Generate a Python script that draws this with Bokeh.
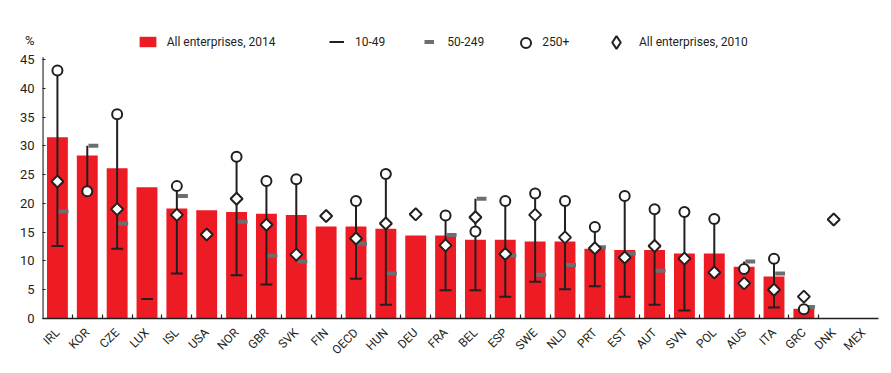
import math
import numpy as np
from bokeh.plotting import figure
from bokeh.models import Range1d, FixedTicker, Legend, LegendItem, ColumnDataSource
from bokeh.embed import file_html
from bokeh.resources import INLINE

nan = float("nan")

countries = ["IRL", "KOR", "CZE", "LUX", "ISL", "USA", "NOR", "GBR", "SVK", "FIN",
             "OECD", "HUN", "DEU", "FRA", "BEL", "ESP", "SWE", "NLD", "PRT", "EST",
             "AUT", "SVN", "POL", "AUS", "ITA", "GRC", "DNK", "MEX"]

all_2014 = [31.5, 28.3, 26.1, 22.8, 19.1, 18.8, 18.5, 18.2, 18.0, 16.0,
            16.0, 15.6, 14.4, 14.4, 13.7, 13.7, 13.4, 13.4, 12.1, 11.9,
            11.9, 11.3, 11.3, 9.0, 7.3, 1.7, nan, nan]

size_10_49 = [12.6, nan, 12.1, 3.4, 7.8, nan, 7.5, 5.9, nan, nan,
              6.9, 2.4, nan, 4.9, 4.9, 3.8, 6.4, 5.1, 5.6, 3.8,
              2.4, 1.4, 8.0, nan, 1.9, nan, nan, nan]

size_50_249 = [18.6, 30.0, 16.5, nan, 21.3, nan, 16.8, 10.9, 9.9, nan,
               13.0, 7.8, nan, 14.5, 20.8, 11.0, 7.6, 9.3, 12.4, 11.3,
               8.3, nan, nan, 9.9, 7.8, 2.0, nan, nan]

size_250p = [43.1, 22.1, 35.5, nan, 23.0, nan, 28.1, 23.9, 24.2, nan,
             20.4, 25.1, nan, 17.9, 15.1, 20.4, 21.7, 20.4, 15.9, 21.3,
             19.0, 18.5, 17.3, 8.6, 10.4, 1.6, nan, nan]

all_2010 = [23.8, nan, 19.0, nan, 18.0, 14.6, 20.8, 16.3, 11.1, 17.8,
            13.9, 16.5, 18.1, 12.7, 17.6, 11.2, 18.0, 14.1, 12.2, 10.6,
            12.6, 10.4, 8.0, 6.1, 5.0, 3.8, 17.2, nan]

y_ticks = [0, 5, 10, 15, 20, 25, 30, 35, 40, 45]
unit_label = "%"

RED = "#ED1C24"
BLACK = "#231F20"
GRAY = "#6D6E71"
TXT = "#231F20"
FONT = "Roboto, sans-serif"

n = len(countries)
xs = np.arange(n, dtype=float)

# frame geometry (page px); frame is extended upward to hold the legend
W, H = 891, 373
FL, FR, FT, FB = 42, 878, 20, 318
Y45 = 59  # pixel row of the 45 % tick
y_end = y_ticks[-1] * (FB - FT) / (FB - Y45)
unit_pos = 48.3    # where the "%" unit label sits on the value scale
axis_top = 45.4    # where the value axis line stops


def src(vals):
    v = np.array(vals, dtype=float)
    m = ~np.isnan(v)
    return ColumnDataSource(dict(x=xs[m], y=v[m]))


p = figure(width=W, height=H, output_backend="svg", toolbar_location=None,
           x_range=Range1d(-0.5, n - 0.5), y_range=Range1d(0, y_end),
           min_border_left=FL, min_border_right=W - FR, min_border_top=FT,
           min_border_bottom=H - FB)
p.outline_line_color = None
p.xgrid.visible = False
p.ygrid.visible = False

bars = p.vbar(x="x", top="y", width=0.7, source=src(all_2014),
              fill_color=RED, line_color=None)

stack = np.array([size_10_49, size_50_249, size_250p], dtype=float)
cnt = np.sum(~np.isnan(stack), axis=0)
lo = np.min(np.where(np.isnan(stack), np.inf, stack), axis=0)
hi = np.max(np.where(np.isnan(stack), -np.inf, stack), axis=0)
mask = cnt >= 2
p.segment(x0=xs[mask], y0=lo[mask], x1=xs[mask], y1=hi[mask],
          line_color=BLACK, line_width=2)

s_small = src(size_10_49)
s_small.data["x0"] = s_small.data["x"] - 0.2
s_small.data["x1"] = s_small.data["x"] + 0.2
r_small = p.segment(x0="x0", x1="x1", y0="y", y1="y", source=s_small,
                    line_color=BLACK, line_width=2)

s_med = src(size_50_249)
s_med.data["x0"] = s_med.data["x"] + 0.04
s_med.data["x1"] = s_med.data["x"] + 0.37
r_med = p.segment(x0="x0", x1="x1", y0="y", y1="y", source=s_med,
                  line_color=GRAY, line_width=4)

r_large = p.scatter(x="x", y="y", source=src(size_250p), marker="circle", size=10,
                    fill_color="white", line_color=BLACK, line_width=2)

r_2010 = p.scatter(x="x", y="y", source=src(all_2010), marker="square", angle=math.pi / 4,
                   size=8.5, fill_color="white", line_color=BLACK, line_width=2)
# legend key for the 2010 series (diamond shape); holds no drawable point
r_2010_key = p.scatter(x=[nan], y=[nan], marker="diamond", size=12,
                       fill_color="white", line_color=BLACK, line_width=2)

# value axis line (stops just above the last tick); half of it is inside the frame
p.segment(x0=[-0.5], y0=[0], x1=[-0.5], y1=[axis_top], line_color=BLACK, line_width=2.2)

AX = "#231F20"
p.yaxis.bounds = (0, unit_pos)
p.yaxis.ticker = FixedTicker(ticks=y_ticks + [unit_pos], minor_ticks=y_ticks)
p.yaxis.major_label_overrides = {**{t: str(t) for t in y_ticks}, unit_pos: unit_label}
p.yaxis.axis_line_color = None
p.yaxis.major_tick_out = 0
p.yaxis.major_tick_in = 0
p.yaxis.minor_tick_out = 0
p.yaxis.minor_tick_in = 3
p.yaxis.minor_tick_line_color = AX
p.yaxis.minor_tick_line_width = 1.2
p.yaxis.major_label_text_font = FONT
p.yaxis.major_label_text_font_size = "13px"
p.yaxis.major_label_text_color = TXT
p.yaxis.major_label_standoff = 8

p.xaxis.ticker = FixedTicker(ticks=list(range(n)), minor_ticks=[i + 0.5 for i in range(n - 2)])
p.xaxis.major_label_overrides = {i: c for i, c in enumerate(countries)}
p.xaxis.major_label_orientation = math.pi / 4
p.xaxis.axis_line_color = AX
p.xaxis.axis_line_width = 1.5
p.xaxis.major_tick_out = 0
p.xaxis.major_tick_in = 0
p.xaxis.minor_tick_out = 0
p.xaxis.minor_tick_in = 4
p.xaxis.minor_tick_line_color = AX
p.xaxis.minor_tick_line_width = 1.2
p.xaxis.major_label_text_font = FONT
p.xaxis.major_label_text_font_size = "12px"
p.xaxis.major_label_text_color = TXT
p.xaxis.major_label_standoff = 12


def add_legend(r, label, x_page, gw, gh, standoff):
    cy = FB - 42
    lg = Legend(items=[LegendItem(label=label, renderers=[r])],
                location=(x_page - FL, cy - gh / 2),
                orientation="horizontal", glyph_width=gw, glyph_height=gh, label_height=gh,
                label_standoff=standoff, padding=0, margin=0, spacing=0,
                border_line_color=None, background_fill_alpha=0,
                label_text_font=FONT, label_text_font_size="12px", label_text_color=TXT)
    p.add_layout(lg)


add_legend(bars, "All enterprises, 2014", 136.7, 21, 13, 9)
add_legend(r_small, "10-49", 329, 15, 13, 11)
add_legend(r_med, "50-249", 424.3, 10, 13, 13)
add_legend(r_large, "250+", 513.2, 25, 25, 4)
add_legend(r_2010_key, "All enterprises, 2010", 600, 32, 32, 7)

open("out.html", "w").write(file_html(p, INLINE))
